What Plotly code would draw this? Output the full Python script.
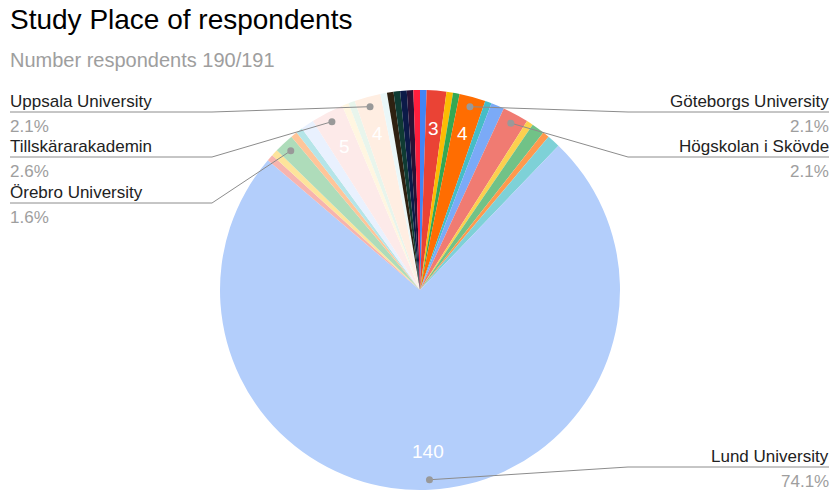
import math
import plotly.graph_objects as go

# ---------------- data ----------------
places = [
    "Other 1", "Other 2", "Other 3", "Other 4", "Göteborgs University", "Other 5",
    "Other 6", "Högskolan i Skövde", "Other 7", "Other 8", "Other 9", "Other 10",
    "Lund University", "Other 11", "Other 12", "Örebro University", "Other 13",
    "Other 14", "Other 15", "Tillskärarakademin", "Other 16", "Other 17",
    "Uppsala University", "Other 18", "Other 19", "Other 20", "Other 21",
    "Other 22", "Other 23",
]
counts = [1, 3, 1, 1, 4, 1, 2, 4, 1, 2, 1, 2, 140, 1, 1, 3, 1, 1, 2, 5, 1, 1, 4,
          1, 1, 1, 1, 1, 1]

value_labelled = ["Other 2", "Göteborgs University", "Lund University",
                  "Tillskärarakademin", "Uppsala University"]
left_labels = ["Uppsala University", "Tillskärarakademin", "Örebro University"]
right_labels = ["Göteborgs University", "Högskolan i Skövde", "Lund University"]

title_text = "Study Place of respondents"
subtitle_text = "Number respondents 190/191"

# ---------------- style ----------------
colors = ["#4285F4", "#EA4335", "#FBBC04", "#34A853", "#FF6D01", "#46BDC6",
          "#7BAAF7", "#F07B72", "#FCD04F", "#71C287", "#FF994D", "#7ED1D7",
          "#B3CEFB", "#F7B4AE", "#FDE49B", "#AEDCBA", "#FFC599", "#B5E5E8",
          "#E9F1FE", "#FDEAE9", "#FFF6E1", "#E8F5EC", "#FFEEE2", "#EAF7F8",
          "#2E2111", "#0F3B33", "#0C1A48", "#2A1236", "#FF1F3D"]

W, H = 831, 491
CX, CY, R = 420.0, 290.0, 200.0
FONT = "Liberation Sans, Arial, sans-serif"
LINE_COLOR = "#8c8c8c"
KINK_L, KINK_R = 212.0, 628.0
LEFT_EDGE, RIGHT_EDGE = 10.0, 829.0
left_line_y = [112, 157, 203]
right_line_y = [112, 157, 467]


def px(x):
    return x / W


def py(y):
    return 1 - y / H


total = sum(counts)
mid_angle = {}
cum = 0
for name, v in zip(places, counts):
    mid_angle[name] = (cum + v / 2) / total * 2 * math.pi
    cum += v


def polar(name, frac):
    a = mid_angle[name]
    return CX + frac * R * math.sin(a), CY - frac * R * math.cos(a)


fig = go.Figure(go.Pie(
    labels=places, values=counts, sort=False, direction="clockwise", rotation=0,
    marker=dict(colors=colors, line=dict(width=0)),
    textinfo="none", hoverinfo="label+value+percent", showlegend=False,
    domain=dict(x=[px(CX - R), px(CX + R)], y=[py(CY + R), py(CY - R)]),
))

annotations = []
shapes = []


def note(x, y, text, anchor, size, color):
    annotations.append(dict(x=px(x), y=py(y), xref="paper", yref="paper",
                            text=text, showarrow=False, xanchor=anchor,
                            yanchor="middle", borderpad=0, borderwidth=0,
                            font=dict(family=FONT, size=size, color=color)))


note(10, 20, title_text, "left", 28, "#000000")
note(10, 60, subtitle_text, "left", 20, "#9e9e9e")

# value labels inside slices
for name in value_labelled:
    x, y = polar(name, 0.81)
    v = counts[places.index(name)]
    note(x, y, str(v), "center", 19, "#ffffff")


def leader(name, line_y, side):
    v = counts[places.index(name)]
    pct = f"{v / total * 100:.1f}%"
    dx, dy = polar(name, 0.95)
    kx = KINK_L if side == "left" else KINK_R
    ex = LEFT_EDGE if side == "left" else RIGHT_EDGE
    shapes.append(dict(type="path", xref="paper", yref="paper",
                       path=f"M {px(dx)} {py(dy)} L {px(kx)} {py(line_y)} L {px(ex)} {py(line_y)}",
                       line=dict(color=LINE_COLOR, width=1)))
    rr = 3.5
    shapes.append(dict(type="circle", xref="paper", yref="paper",
                       x0=px(dx - rr), x1=px(dx + rr), y0=py(dy + rr), y1=py(dy - rr),
                       fillcolor="#999999", line=dict(width=0)))
    anchor = "left" if side == "left" else "right"
    note(ex, line_y - 11, name, anchor, 17, "#222222")
    note(ex, line_y + 14, pct, anchor, 17, "#9e9e9e")


for name, ly in zip(left_labels, left_line_y):
    leader(name, ly, "left")
for name, ly in zip(right_labels, right_line_y):
    leader(name, ly, "right")

fig.update_layout(
    width=W, height=H, margin=dict(l=0, r=0, t=0, b=0),
    paper_bgcolor="#ffffff", plot_bgcolor="#ffffff",
    annotations=annotations, shapes=shapes,
)

fig.write_html("out.html")
